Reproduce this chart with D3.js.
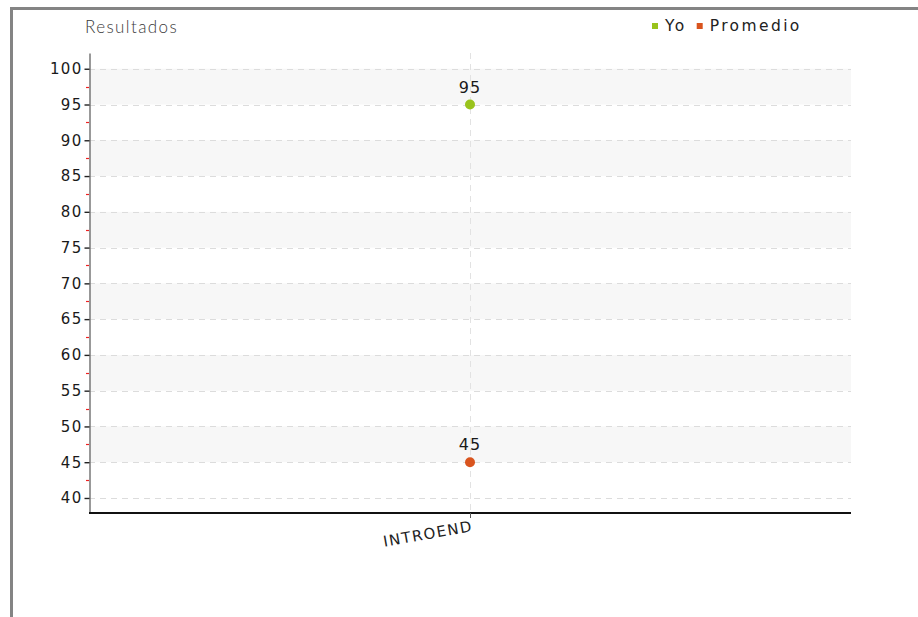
<!DOCTYPE html>
<html>
<head>
<meta charset="utf-8">
<script src="https://cdn.jsdelivr.net/npm/d3@7"></script>
<style>
  body { margin: 0; background: #fff; }
  svg { display: block; }
</style>
</head>
<body>
<div class="chart"></div>
<script>
var categories = ["INTROEND"];
var yoValues = [95];
var promedioValues = [45];
var seriesNames = ["Yo", "Promedio"];
var seriesColors = ["#99c31c", "#d9541e"];
var yTicks = [40, 45, 50, 55, 60, 65, 70, 75, 80, 85, 90, 95, 100];
var yMinor = [42.5, 47.5, 52.5, 57.5, 62.5, 67.5, 72.5, 77.5, 82.5, 87.5, 92.5, 97.5];

var width = 918, height = 617;
var margin = {top: 53, right: 67, bottom: 104, left: 89};

var svg = d3.select(".chart")
    .append("svg")
    .attr("width", width)
    .attr("height", height);

// outer frame (top and left edges only visible)
svg.append("path")
    .attr("d", "M11.5,617 L11.5,8.5 L918,8.5")
    .attr("fill", "none")
    .attr("stroke", "#848484")
    .attr("stroke-width", 3);

var y = d3.scaleLinear()
    .domain([37.9, 102.2])
    .range([height - margin.bottom, margin.top]);

var x = d3.scalePoint()
    .domain(categories)
    .range([margin.left, width - margin.right])
    .padding(0.5);

var plotRight = 851;

// alternating bands
var bandStarts = yTicks.filter(function(d) { return d % 10 === 5 && d >= 45; });
svg.append("g").selectAll("rect")
    .data(bandStarts)
    .enter().append("rect")
    .attr("x", margin.left)
    .attr("width", plotRight - margin.left)
    .attr("y", function(d) { return y(d + 5); })
    .attr("height", function(d) { return y(d) - y(d + 5); })
    .attr("fill", "#f7f7f7");

// horizontal dashed grid
svg.append("g").selectAll("line")
    .data(yTicks)
    .enter().append("line")
    .attr("x1", margin.left)
    .attr("x2", plotRight)
    .attr("y1", function(d) { return Math.round(y(d)) + 0.5; })
    .attr("y2", function(d) { return Math.round(y(d)) + 0.5; })
    .attr("stroke", "#dcdcdc")
    .attr("stroke-dasharray", "6,5");

// vertical dashed grid
svg.append("g").selectAll("line")
    .data(categories)
    .enter().append("line")
    .attr("x1", function(d) { return Math.round(x(d)) + 0.5; })
    .attr("x2", function(d) { return Math.round(x(d)) + 0.5; })
    .attr("y1", margin.top)
    .attr("y2", height - margin.bottom)
    .attr("stroke", "#e2e2e2")
    .attr("stroke-dasharray", "6,5");

// minor ticks in red
svg.append("g").selectAll("line")
    .data(yMinor)
    .enter().append("line")
    .attr("x1", margin.left - 3)
    .attr("x2", margin.left)
    .attr("y1", function(d) { return Math.round(y(d)) + 0.5; })
    .attr("y2", function(d) { return Math.round(y(d)) + 0.5; })
    .attr("stroke", "#ee2222")
    .attr("stroke-width", 1.2);

// y axis
var yAxis = d3.axisLeft(y)
    .tickValues(yTicks)
    .tickSize(5)
    .tickSizeOuter(0)
    .tickPadding(2);

var gy = svg.append("g")
    .attr("transform", "translate(" + (margin.left + 0.5) + ",0)")
    .call(yAxis);
gy.select(".domain").attr("stroke", "#777").attr("stroke-width", 1.5);
gy.selectAll(".tick line").attr("stroke", "#222").attr("stroke-width", 1.4);
gy.selectAll(".tick text")
    .attr("font-family", "DejaVu Sans")
    .attr("font-size", 15)
    .attr("letter-spacing", 1.3)
    .attr("fill", "#1a1a1a");

// x axis
var xAxis = d3.axisBottom(x)
    .tickSize(5)
    .tickSizeOuter(0);

var gx = svg.append("g")
    .attr("transform", "translate(0," + (height - margin.bottom) + ")")
    .call(xAxis);
gx.select(".domain")
    .attr("d", "M" + margin.left + ",0H" + plotRight)
    .attr("stroke", "#111")
    .attr("stroke-width", 2);
gx.selectAll(".tick line").attr("stroke", "#555").attr("stroke-width", 1);
gx.selectAll(".tick text")
    .attr("font-family", "DejaVu Sans")
    .attr("font-size", 15)
    .attr("letter-spacing", 1.4)
    .attr("fill", "#222")
    .attr("text-anchor", "end")
    .attr("dy", null)
    .attr("y", 0)
    .attr("transform", "translate(3,18) rotate(-10)");

// points and labels
var series = [yoValues, promedioValues];
series.forEach(function(vals, i) {
  var g = svg.append("g");
  g.selectAll("circle")
      .data(vals)
      .enter().append("circle")
      .attr("cx", function(d, j) { return x(categories[j]); })
      .attr("cy", function(d) { return y(d); })
      .attr("r", 5)
      .attr("fill", seriesColors[i]);
  g.selectAll("text")
      .data(vals)
      .enter().append("text")
      .attr("x", function(d, j) { return x(categories[j]); })
      .attr("y", function(d) { return y(d) - 12; })
      .attr("text-anchor", "middle")
      .attr("font-family", "DejaVu Sans")
      .attr("font-size", 16)
      .attr("letter-spacing", 1)
      .attr("fill", "#1a1a1a")
      .text(function(d) { return d; });
});

// title
svg.append("text")
    .attr("x", 85)
    .attr("y", 33)
    .attr("font-family", "Lato")
    .attr("font-weight", 300)
    .attr("font-size", 17)
    .attr("letter-spacing", 1.4)
    .attr("fill", "#3a3a3a")
    .text("Resultados");

// legend
var legend = svg.append("g").attr("transform", "translate(652,31)");
var lx = 0;
seriesNames.forEach(function(name, i) {
  legend.append("rect")
      .attr("x", lx)
      .attr("y", -8)
      .attr("width", 6)
      .attr("height", 6)
      .attr("fill", seriesColors[i]);
  var t = legend.append("text")
      .attr("x", lx + 13)
      .attr("y", 0)
      .attr("font-family", "DejaVu Sans")
      .attr("font-size", 15.5)
      .attr("letter-spacing", 2.4)
      .attr("fill", "#222")
      .text(name);
  lx += 13 + t.node().getComputedTextLength() + 10;
});
</script>
</body>
</html>
